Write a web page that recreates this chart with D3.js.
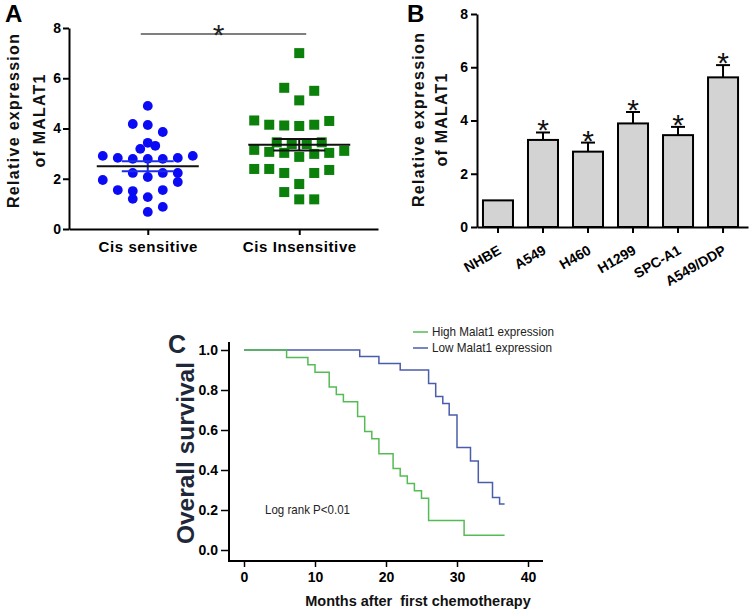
<!DOCTYPE html>
<html><head><meta charset="utf-8">
<script src="https://cdn.jsdelivr.net/npm/d3@7"></script>
<style>
html,body{margin:0;padding:0;background:#fff;}
svg{display:block;font-family:"Liberation Sans",Arial,Helvetica,sans-serif;}
</style></head><body>
<svg id="chart" width="750" height="614"></svg>
<script>
// ---------- Panel A data ----------
const groupsA = ["Cis sensitive", "Cis Insensitive"];
const sensitiveValues = [4.9, 4.18, 4.14, 3.86, 3.43, 3.19, 3.31,
  2.91, 2.83, 2.79, 2.79, 2.79, 2.83, 2.91,
  2.23, 2.07, 2.23, 2.23, 1.95, 1.87,
  1.55, 1.51, 1.55, 1.2, 1.27, 0.68, 0.88];
// swarm column of each point
const sensitiveSwarm = [0, -1, 0, 1, 0, -0.5, 0.5,
  -3, -2, -1, 0, 1, 2, 3,
  -1, 0, 1, 2, -3, 2,
  -2, -1, 1, -1, 0, 0, 1];
const insensitiveValues = [7.0, 5.62, 5.5, 5.12,
  4.32, 4.15, 4.12, 4.1, 4.15, 4.3,
  3.45, 3.38, 3.38, 3.45,
  3.15, 3.07, 3.03, 2.87, 2.99, 3.03, 3.11,
  2.39, 2.39, 2.23, 2.23, 2.35,
  1.79, 1.47, 1.18, 1.18];
const insensitiveSwarm = [0, -1, 1, 0,
  -3, -2, -1, 0, 1, 2,
  -1.5, -0.5, 0.5, 1.5,
  -3, -2, -1, 0, 1, 2, 3,
  -3, -2, -1, 1, 2,
  0, -1, 0, 1];
const groupMeans = [2.5, 3.35];
const groupSEM = [0.2, 0.23];
const yTicksA = [0, 2, 4, 6, 8];

// ---------- Panel B data ----------
const cellLines = ["NHBE", "A549", "H460", "H1299", "SPC-A1", "A549/DDP"];
const cellMeans = [1.0, 3.27, 2.83, 3.89, 3.45, 5.62];
const cellErrors = [0, 0.28, 0.34, 0.43, 0.31, 0.46];
const cellMarks = ["", "*", "*", "*", "*", "*"];
const yTicksB = [0, 2, 4, 6, 8];

// ---------- Panel C data ----------
const highTimes = [0, 6.0, 9.0, 10.0, 12.0, 13.0, 14.0, 16.0, 17.0, 18.0, 19.0, 21.0, 22.0, 23.0, 24.0, 25.0, 26.0, 31.0, 36.7];
const highSurv  = [1.0, 0.963, 0.926, 0.889, 0.815, 0.778, 0.741, 0.667, 0.593, 0.556, 0.481, 0.407, 0.370, 0.333, 0.296, 0.259, 0.148, 0.074, 0.074];
const lowTimes = [0, 16.3, 19.0, 22.0, 26.0, 27.0, 28.0, 28.9, 30.0, 31.9, 33.0, 35.0, 36.0, 36.7];
const lowSurv  = [1.0, 0.967, 0.933, 0.9, 0.833, 0.767, 0.733, 0.675, 0.513, 0.445, 0.337, 0.262, 0.23, 0.23];
const kmXTicks = [0, 10, 20, 30, 40];
const kmYTicks = [0, 0.2, 0.4, 0.6, 0.8, 1.0];
const legendLabels = ["High Malat1 expression", "Low Malat1 expression"];

const svg = d3.select("#chart");
svg.append("rect").attr("width", 750).attr("height", 614).attr("fill", "#fff");

function styleAxis(g, w) {
  g.selectAll("path.domain").attr("stroke", "#000").attr("stroke-width", w);
  g.selectAll(".tick line").attr("stroke", "#000").attr("stroke-width", w);
  g.selectAll(".tick text").attr("fill", "#000").attr("font-weight", "bold")
    .attr("font-family", '"Liberation Sans",Arial,sans-serif');
}
function yTitle(x1, x2, cy, lines, size) {
  const lens = [174, 93];
  [x1, x2].forEach((bx, i) => {
    svg.append("text").attr("transform", `translate(${bx},${cy}) rotate(-90)`)
      .attr("text-anchor", "middle").attr("font-size", size).attr("font-weight", "bold")
      .attr("textLength", lens[i]).attr("lengthAdjust", "spacing")
      .attr("fill", "#111").text(lines[i]);
  });
}

// =============== Panel A ===============
const yA = d3.scaleLinear().domain([0, 8]).range([229, 28]);
const xA = d3.scalePoint().domain(groupsA).range([69, 378]).padding(0.52);
const slotW = 15;

const gyA = svg.append("g").attr("transform", "translate(69,0)")
  .call(d3.axisLeft(yA).tickValues(yTicksA).tickSize(6).tickSizeOuter(0).tickPadding(2));
gyA.selectAll(".tick text").attr("font-size", 14);
styleAxis(gyA, 2);
const gxA = svg.append("g").attr("transform", "translate(0,229)")
  .call(d3.axisBottom(xA).tickSize(6).tickSizeOuter(0).tickPadding(6));
gxA.selectAll(".tick text").attr("font-size", 15).attr("letter-spacing", 0.6);
styleAxis(gxA, 2);

const ptsS = sensitiveValues.map((v, i) => ({v, s: sensitiveSwarm[i]}));
const ptsI = insensitiveValues.map((v, i) => ({v, s: insensitiveSwarm[i]}));
svg.append("g").selectAll("circle").data(ptsS).join("circle")
  .attr("cx", d => xA(groupsA[0]) + d.s * slotW).attr("cy", d => yA(d.v))
  .attr("r", 4.9).attr("fill", "#0a0af5");
svg.append("g").selectAll("rect").data(ptsI).join("rect")
  .attr("x", d => xA(groupsA[1]) + d.s * slotW - 5).attr("y", d => yA(d.v) - 5)
  .attr("width", 10).attr("height", 10).attr("fill", "#0b800b");

// mean and SEM
groupsA.forEach((g, i) => {
  const cx = xA(g);
  const semColor = i === 0 ? "#1d2ee8" : "#111";
  const gg = svg.append("g");
  gg.append("line").attr("x1", cx).attr("x2", cx)
    .attr("y1", yA(groupMeans[i] - groupSEM[i])).attr("y2", yA(groupMeans[i] + groupSEM[i]))
    .attr("stroke", semColor).attr("stroke-width", 2);
  [groupMeans[i] - groupSEM[i], groupMeans[i] + groupSEM[i]].forEach(v => {
    gg.append("line").attr("x1", cx - 26).attr("x2", cx + 26)
      .attr("y1", yA(v)).attr("y2", yA(v)).attr("stroke", semColor).attr("stroke-width", 2);
  });
  gg.append("line").attr("x1", cx - 51).attr("x2", cx + 51)
    .attr("y1", yA(groupMeans[i])).attr("y2", yA(groupMeans[i]))
    .attr("stroke", "#111").attr("stroke-width", 2);
});
// significance bar
svg.append("line").attr("x1", xA(groupsA[0]) - 7).attr("x2", xA(groupsA[1]) + 7)
  .attr("y1", 34).attr("y2", 34).attr("stroke", "#555").attr("stroke-width", 1.6);
svg.append("text").attr("x", (xA(groupsA[0]) + xA(groupsA[1])) / 2 - 5).attr("y", 45)
  .attr("text-anchor", "middle").attr("font-size", 30).attr("fill", "#222").text("*");

yTitle(19, 45, 121, ["Relative expression", "of MALAT1"], 16);
svg.append("text").attr("x", 5).attr("y", 22).attr("font-size", 24).attr("font-weight", "bold").text("A");

// =============== Panel B ===============
const yB = d3.scaleLinear().domain([0, 8]).range([227, 14]);
const xB = d3.scaleBand().domain(cellLines).range([477, 748])
  .paddingInner(1 / 3).paddingOuter(0.177).align(0.375);

svg.append("g").selectAll("rect").data(cellLines).join("rect")
  .attr("x", d => xB(d)).attr("width", xB.bandwidth())
  .attr("y", (d, i) => yB(cellMeans[i])).attr("height", (d, i) => yB(0) - yB(cellMeans[i]))
  .attr("fill", "#d3d3d3").attr("stroke", "#000").attr("stroke-width", 2);
const eb = svg.append("g");
cellLines.forEach((c, i) => {
  if (!cellErrors[i]) return;
  const cx = xB(c) + xB.bandwidth() / 2;
  const top = yB(cellMeans[i] + cellErrors[i]);
  eb.append("line").attr("x1", cx).attr("x2", cx).attr("y1", yB(cellMeans[i])).attr("y2", top)
    .attr("stroke", "#000").attr("stroke-width", 2);
  eb.append("line").attr("x1", cx - 7).attr("x2", cx + 7).attr("y1", top).attr("y2", top)
    .attr("stroke", "#000").attr("stroke-width", 2);
  eb.append("text").attr("x", cx).attr("y", top + 8).attr("text-anchor", "middle")
    .attr("font-size", 30).attr("fill", "#111").text(cellMarks[i]);
});
const gyB = svg.append("g").attr("transform", "translate(477,0)")
  .call(d3.axisLeft(yB).tickValues(yTicksB).tickSize(6).tickSizeOuter(0).tickPadding(3));
gyB.selectAll(".tick text").attr("font-size", 14);
styleAxis(gyB, 2);
const gxB = svg.append("g").attr("transform", "translate(0,227)")
  .call(d3.axisBottom(xB).tickSize(6).tickSizeOuter(0));
styleAxis(gxB, 2);
gxB.selectAll(".tick text").attr("font-size", 14).attr("x", 0).attr("y", 0).attr("dy", 0)
  .attr("text-anchor", "end").attr("transform", "translate(4,26) rotate(-30)");

yTitle(424, 447, 120, ["Relative expression", "of MALAT1"], 16);
svg.append("text").attr("x", 407).attr("y", 22).attr("font-size", 24).attr("font-weight", "bold").text("B");

// =============== Panel C ===============
const xC = d3.scaleLinear().domain([0, 40]).range([244, 528]);
const yC = d3.scaleLinear().domain([0, 1]).range([550, 350]);

const gyC = svg.append("g").attr("transform", "translate(229,0)")
  .call(d3.axisLeft(yC).tickValues(kmYTicks).tickFormat(d3.format(".1f")).tickSize(8).tickPadding(3));
gyC.select("path.domain").remove();
gyC.selectAll(".tick text").attr("font-size", 14);
styleAxis(gyC, 1.5);
const gxC = svg.append("g").attr("transform", "translate(0,561)")
  .call(d3.axisBottom(xC).tickValues(kmXTicks).tickSize(6).tickPadding(5));
gxC.select("path.domain").remove();
gxC.selectAll(".tick text").attr("font-size", 14);
styleAxis(gxC, 1.5);
svg.append("line").attr("x1", 229).attr("x2", 229).attr("y1", 342).attr("y2", 561)
  .attr("stroke", "#000").attr("stroke-width", 2);
svg.append("line").attr("x1", 228).attr("x2", 543).attr("y1", 561).attr("y2", 561)
  .attr("stroke", "#000").attr("stroke-width", 2);

const km = d3.line().x(d => xC(d[0])).y(d => yC(d[1])).curve(d3.curveStepAfter);
const highPts = highTimes.map((t, i) => [t, highSurv[i]]);
const lowPts = lowTimes.map((t, i) => [t, lowSurv[i]]);
const kmColors = ["#55bb55", "#4a5dab"];
svg.append("path").attr("d", km(lowPts)).attr("fill", "none").attr("stroke", kmColors[1]).attr("stroke-width", 1.5);
svg.append("path").attr("d", km(highPts)).attr("fill", "none").attr("stroke", kmColors[0]).attr("stroke-width", 1.5);

legendLabels.forEach((lab, i) => {
  const ly = 332 + i * 16;
  svg.append("line").attr("x1", 413).attr("x2", 428).attr("y1", ly).attr("y2", ly)
    .attr("stroke", kmColors[i]).attr("stroke-width", 1.5);
  svg.append("text").attr("x", 432).attr("y", ly + 4).attr("font-size", 13)
    .attr("textLength", i === 0 ? 122 : 120).attr("lengthAdjust", "spacingAndGlyphs")
    .attr("fill", "#222").text(lab);
});
svg.append("text").attr("x", 265).attr("y", 514).attr("font-size", 13)
  .attr("textLength", 85).attr("lengthAdjust", "spacingAndGlyphs").attr("fill", "#222").text("Log rank P<0.01");

svg.append("text").attr("x", 418).attr("y", 606).attr("text-anchor", "middle")
  .attr("font-size", 14.5).attr("font-weight", "bold").attr("fill", "#111")
  .attr("xml:space", "preserve").style("white-space", "pre").text("Months after  first chemotherapy");
svg.append("text").attr("transform", "translate(194,453) rotate(-90)").attr("text-anchor", "middle")
  .attr("font-size", 24.5).attr("font-weight", "bold").attr("fill", "#1e2838")
  .attr("textLength", 182).attr("lengthAdjust", "spacingAndGlyphs").text("Overall survival");
svg.append("text").attr("x", 177).attr("y", 353).attr("text-anchor", "middle")
  .attr("font-size", 25).attr("font-weight", "bold").attr("fill", "#1e2838").text("C");
</script>
</body></html>
